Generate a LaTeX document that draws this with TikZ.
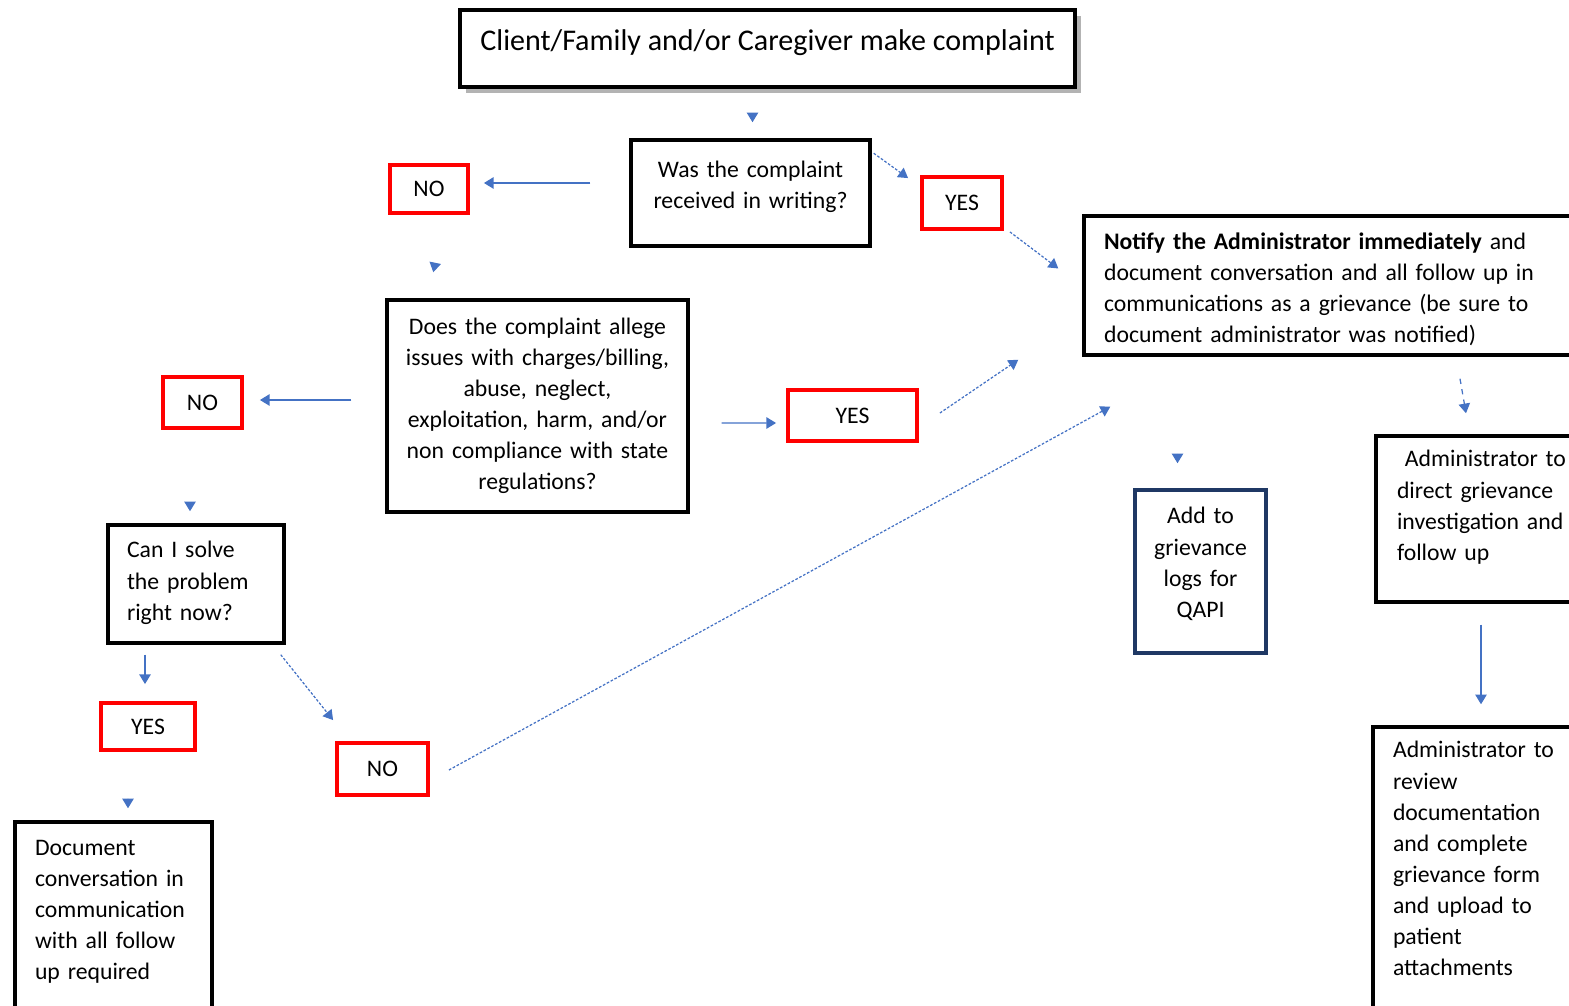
\documentclass[tikz,border=0pt]{standalone}
\usepackage{fontspec}
\setmainfont{Carlito}
\usetikzlibrary{positioning}
\usetikzlibrary{calc}
\usetikzlibrary{arrows.meta}
\usetikzlibrary{shadows}

\definecolor{arrowblue}{HTML}{4472C4}
\definecolor{navyline}{HTML}{1F3864}

\tikzset{
  box/.style={draw=black, line width=2pt, fill=white, align=center, text height=10pt,
    font=\fontsize{13.5}{17.7}\selectfont},
  redbox/.style={draw=red, line width=2.2pt, font=\fontsize{13.5}{17.7}\selectfont},
  flow/.style={draw=arrowblue, line width=0.7pt, -{Triangle[width=6.5pt,length=5.5pt]}},
  dotflow/.style={flow, dash pattern=on 1.5pt off 1pt},
}

\begin{document}
\begin{tikzpicture}[x=0.02cm,y=-0.02cm]

\useasboundingbox (0,0) rectangle (1569,1006);
\clip (0,0) rectangle (1569,1006);

% boxes
\node[box, line width=2.5pt, minimum width=12.3cm, minimum height=1.54cm,
  text height=12pt, text depth=9.7pt,
  drop shadow={shadow xshift=0.12cm, shadow yshift=-0.12cm, opacity=0.6},
  font=\fontsize{17.1}{20}\selectfont] (title) at (767.5,48.5) {Client/Family and/or Caregiver make complaint};

\node[box, text width=4.2cm, text depth=28.2pt, minimum width=4.78cm, minimum height=2.12cm] (was) at (750.5,193)
  {Was the complaint\\received in writing?};

\node[box, align=left, text width=9.32cm, inner xsep=0.4cm, text depth=51.5pt, minimum height=2.78cm] (notify) at (1337,285.5)
  {\textbf{Notify the Administrator immediately} and\\document conversation and all follow up in\\communications as a grievance (be sure to\\document administrator was notified)};

\node[box, text width=5.6cm, text depth=91.9pt, minimum width=6.02cm, minimum height=4.24cm] (does) at (537.5,406)
  {Does the complaint allege\\issues with charges/billing,\\abuse, neglect,\\exploitation, harm, and/or\\non compliance with state\\regulations?};

\node[box, align=left, text width=2.76cm, inner xsep=0.38cm, text depth=39.6pt, minimum height=2.36cm] (can) at (196,584)
  {Can I solve\\the problem\\right now?};

\node[box, align=left, text width=3.14cm, inner xsep=0.4cm, text depth=81.1pt, minimum height=3.82cm] (doc) at (113.5,917.5)
  {Document\\conversation in\\communication\\with all follow\\up required};

\node[box, draw=navyline, text width=2.2cm, text depth=64.1pt, minimum width=2.62cm, minimum height=3.26cm] (add) at (1200.5,571.5)
  {Add to\\grievance\\logs for\\QAPI};

\node[box, align=left, text width=3.64cm, inner xsep=0.42cm, text depth=69.2pt, minimum height=3.32cm] (direct) at (1488,519)
  {\ Administrator to\\direct grievance\\investigation and\\follow up};

\node[box, align=left, text width=3.74cm, inner xsep=0.4cm, text depth=137.5pt, minimum height=5.72cm] (review) at (1486.5,870)
  {Administrator to\\review\\documentation\\and complete\\grievance form\\and upload to\\patient\\attachments};

% answers
\node[redbox, minimum width=1.6cm, minimum height=1.04cm] (yes1) at (962,203) {YES};
\node[redbox, minimum width=1.56cm, minimum height=0.96cm] (no1) at (429,189) {NO};
\node[redbox, minimum width=1.58cm, minimum height=1.02cm] (no2) at (202.5,402.5) {NO};
\node[redbox, minimum width=2.58cm, minimum height=1.02cm] (yes2) at (852.5,415.5) {YES};
\node[redbox, minimum width=1.88cm, minimum height=0.94cm] (yes3) at (148,726.5) {YES};
\node[redbox, minimum width=1.82cm, minimum height=1.04cm] (no3) at (382.5,769) {NO};

% arrows
\draw[flow] ($(title.south -| was.north)+(2,27)$) -- ($(was.north)+(2,-16)$);
\draw[flow] ($(was.west)+(-39,-10)$) -- ($(no1.east)+(14,-6)$);
\draw[dotflow] ($(was.north east)+(2,15)$) -- ($(yes1.north west)+(-12,3)$);
\draw[dotflow] ($(yes1.south east)+(6,1)$) -- ($(notify.west)+(-24,-17)$);
\draw[flow] ($(no1.south)+(6,49)$) -- ($(does.north west)+(48,-26)$);
\draw[flow] ($(does.west)+(-34,-6)$) -- ($(no2.east)+(16,-2.5)$);
\draw[flow] ($(does.east)+(32,17)$) -- ($(yes2.west)+(-10,7.5)$);
\draw[dotflow] ($(yes2.east)+(21,-2.5)$) -- ($(notify.south west)+(-64,3)$);
\draw[flow] ($(no2.south)+(-12.5,73)$) -- ($(can.north)+(-6,-12)$);
\draw[flow] ($(can.south)+(-51,10)$) -- ($(yes3.north)+(-3,-17)$);
\draw[dotflow] ($(can.south east)+(-5,10)$) -- ($(no3.north west)+(-2,-21)$);
\draw[flow] ($(yes3.south)+(-20,49)$) -- ($(doc.north)+(14.5,-12)$);
\draw[dotflow] ($(no3.east)+(19,1)$) -- ($(notify.south west)+(28,50)$);
\draw[flow] ($(notify.south -| add.north)+(-23,97)$) -- ($(add.north)+(-23,-25)$);
\draw[flow, dashed] ($(notify.south -| direct.north)+(-28,22)$) -- ($(direct.north)+(-22,-21)$);
\draw[flow] ($(direct.south)+(-7,21)$) -- ($(review.north)+(-5.5,-21)$);

\end{tikzpicture}
\end{document}
